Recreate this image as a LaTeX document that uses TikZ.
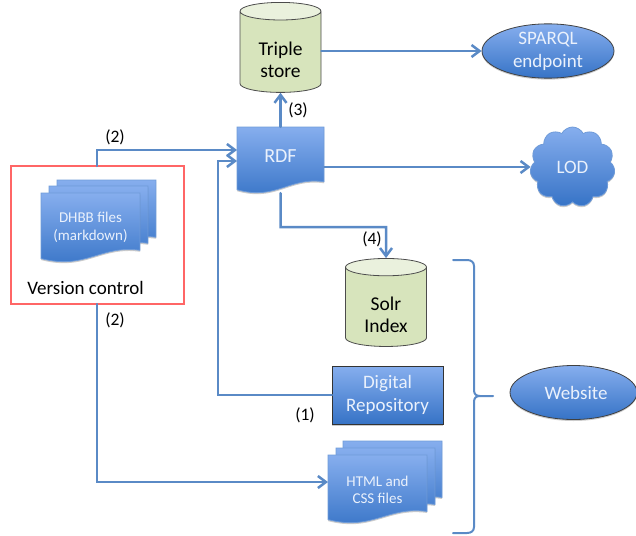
\documentclass[tikz,border=0pt]{standalone}
\usepackage{fontspec}
\setmainfont{Carlito}
\usetikzlibrary{arrows.meta,shapes.geometric,shapes.symbols}
\definecolor{flowblue}{HTML}{5A8AC6}
\definecolor{shapetop}{HTML}{86AEEE}
\definecolor{shapebot}{HTML}{3673C6}
\definecolor{shapeedge}{HTML}{6F9BD8}
\definecolor{canfill}{HTML}{D7E4BC}
\definecolor{cantop}{HTML}{EAF1DD}
\definecolor{lighttext}{HTML}{EAF1FC}
\newcommand{\wavedoc}[4]{%
	\path[docpage] (#1,#2) -- ++(#3,0) -- (#1+#3,#2+.83*#4)
		.. controls (#1+.6*#3,#2+.75*#4) and (#1+.45*#3,#2+1.12*#4) .. (#1,#2+.95*#4) -- cycle;}
\begin{document}
\begin{tikzpicture}[x=1pt,y=-1pt,line cap=round]
	\tikzstyle{soft}=[preaction={fill=black,opacity=.2,transform canvas={yshift=-1.5pt}}];
	\tikzstyle{docpage}=[soft,draw=shapeedge,line width=.8pt,top color=shapetop,bottom color=shapebot];
	\tikzstyle{doctext}=[inner sep=0pt,text=lighttext,align=center];
	\tikzstyle{oval}=[soft,ellipse,draw=black!75,line width=.8pt,inner sep=0pt,top color=shapetop,bottom color=shapebot,text=lighttext,align=center,font=\fontsize{19}{23}\selectfont];
	\tikzstyle{can}=[cylinder,shape border rotate=90,draw=black!70,line width=.8pt,inner sep=0pt,aspect=.4,minimum width=81pt,cylinder uses custom fill,cylinder body fill=canfill,cylinder end fill=cantop,align=center,font=\fontsize{19.5}{22}\selectfont];
	\tikzstyle{flow}=[draw=flowblue,line width=2.5pt,-{Straight Barb[length=8pt,width=12pt]}];
	\tikzstyle{step label}=[inner sep=0pt,font=\fontsize{17.5}{20}\selectfont];

	\useasboundingbox (0,0) rectangle (636,535);

	\node[can,minimum height=90pt] (triple) at (280.5,52) {\rule{0pt}{30pt}Triple\\store};
	\node[can,minimum height=88pt] (solr) at (386,307) {\rule{0pt}{30pt}Solr\\Index};

	\wavedoc{237}{127}{87}{66}
	\node[doctext,minimum width=87pt,minimum height=66pt,text depth=7pt,font=\fontsize{20}{24}\selectfont] (rdf) at (280.5,160) {RDF};

	\node[oval,minimum width=132pt,minimum height=54pt] (sparql) at (548,51) {SPARQL\\endpoint};
	\node[soft,cloud,cloud puffs=11,cloud puff arc=125,aspect=1.05,draw=shapeedge,line width=.8pt,inner sep=0pt,minimum width=85pt,minimum height=80pt,top color=shapetop,bottom color=shapebot,text=lighttext,font=\fontsize{19}{23}\selectfont] (lod) at (572.5,167) {LOD};
	\node[oval,minimum width=127pt,minimum height=54pt] (website) at (573.5,392.5) {\hspace*{5pt}Website};

	\node[draw=red!60!white,line width=1.2pt,minimum width=173pt,minimum height=138pt,inner sep=0pt] (vc) at (97.5,235) {};
	\node[inner sep=0pt,font=\fontsize{19}{22}\selectfont] (vclabel) at (85.5,288) {Version control};
	\foreach \dx/\dy in {16/13,8/7,0/0}
		\wavedoc{41+\dx}{193-\dy}{99}{69}
	\node[doctext,minimum width=99pt,minimum height=69pt,font=\fontsize{15}{18}\selectfont] (dhbb) at (90.5,227.5) {DHBB files\\(markdown)};

	\node[soft,draw=black!80,line width=.8pt,inner sep=0pt,minimum width=111pt,minimum height=58pt,top color=shapetop,bottom color=shapebot,text=lighttext,align=center,font=\fontsize{19}{23}\selectfont] (repo) at (387.5,395) {Digital\\Repository};

	\foreach \dx/\dy in {15/14,8/7,0/0}
		\wavedoc{328+\dx}{455-\dy}{99}{68}
	\node[doctext,minimum width=99pt,minimum height=68pt,font=\fontsize{15}{17}\selectfont] (html) at (377.5,490) {HTML and\\CSS files};

	% connectors
	\coordinate (rdftop) at (237,150);
	\coordinate (rdfbot) at (237,161);
	\coordinate (vcup) at (97,166);
	\coordinate (vcdown) at (97,304);
	\coordinate (htmlin) at (328,482);
	\coordinate (bend) at (386,227);
	\coordinate (repoout) at (332,395);
	\draw[flow] (vcup) |- (rdftop);
	\draw[flow] (vcdown) |- (htmlin);
	\draw[flow] (repoout) -- (218,395) |- (rdfbot);
	\draw[flow] (rdf.north) -- (triple.south);
	\draw[flow] (triple.east |- sparql.west) -- (sparql.west);
	\draw[flow] (rdf.east |- lod.west) -- (lod.west);
	\draw[flow] (rdf.south) |- (bend) -- (solr.north);

	% brace
	\draw[flowblue,line width=2pt] (453,260) -- (467,260) .. controls (471,260) and (474,262) .. (474,266) -- (474,390) .. controls (474,394) and (476,396) .. (480,396) -- (493,396);
	\draw[flowblue,line width=2pt] (453,533) -- (467,533) .. controls (471,533) and (474,531) .. (474,527) -- (474,402) .. controls (474,398) and (476,396) .. (480,396);

	\node[step label] (s2a) at (115,137) {(2)};
	\node[step label] (s2b) at (115,320) {(2)};
	\node[step label] (s3) at (298,110) {(3)};
	\node[step label] (s4) at (372,239) {(4)};
	\node[step label] (s1) at (305,415) {(1)};
\end{tikzpicture}
\end{document}
